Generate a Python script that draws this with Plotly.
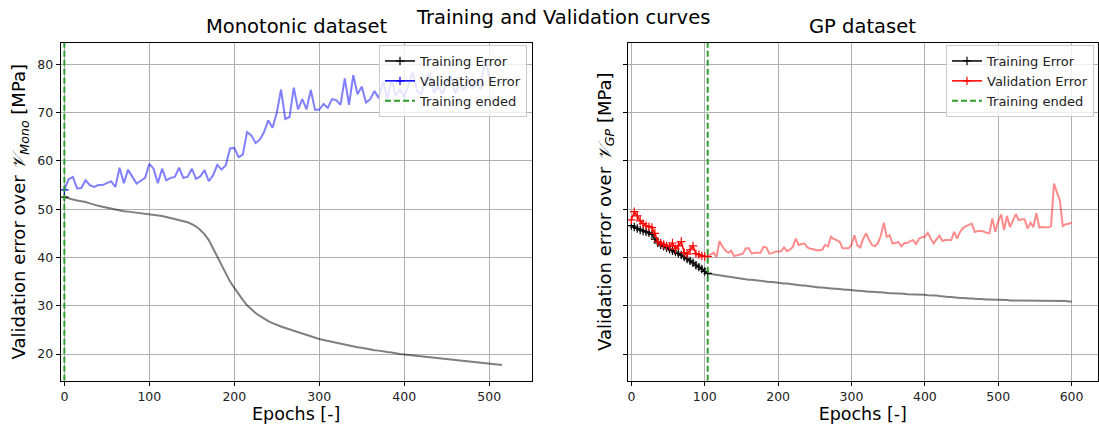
import plotly.graph_objects as go

# ---------------- data ----------------
epochs_mono = list(range(0, 516, 5))
train_mono = [
    52.5, 52.2, 52.0, 51.8, 51.7, 51.5, 51.2, 50.9, 50.7, 50.5,
    50.3, 50.1, 49.9, 49.8, 49.6, 49.5, 49.4, 49.3, 49.2, 49.1,
    49.0, 48.9, 48.8, 48.6, 48.4, 48.2, 48.0, 47.8, 47.6, 47.3,
    46.9, 46.4, 45.7, 44.8, 43.6, 41.9, 40.0, 38.2, 36.5, 35.0,
    33.7, 32.4, 31.2, 30.1, 29.2, 28.5, 27.9, 27.3, 26.8, 26.4,
    26.0, 25.7, 25.4, 25.1, 24.8, 24.5, 24.2, 23.9, 23.7, 23.4,
    23.1, 22.9, 22.7, 22.5, 22.3, 22.1, 21.9, 21.8, 21.6, 21.4,
    21.3, 21.1, 21.0, 20.8, 20.7, 20.5, 20.4, 20.3, 20.1, 20.0,
    19.9, 19.8, 19.7, 19.6, 19.5, 19.4, 19.3, 19.2, 19.1, 19.0,
    18.9, 18.8, 18.7, 18.6, 18.5, 18.4, 18.3, 18.2, 18.1, 18.0,
    17.9, 17.85, 17.8, 17.7,
]
val_mono = [
    54.0, 56.2, 56.7, 54.3, 54.4, 56.0, 55.0, 54.6, 55.0, 55.0,
    55.4, 55.8, 54.6, 58.6, 55.4, 58.2, 56.7, 55.3, 55.9, 56.5,
    59.4, 58.4, 55.4, 58.4, 56.0, 56.5, 56.7, 58.6, 56.5, 56.7,
    58.4, 56.3, 56.8, 58.1, 55.8, 57.0, 59.2, 58.2, 59.1, 62.6,
    62.7, 60.8, 61.3, 66.0, 65.3, 63.7, 64.4, 66.0, 68.4, 66.9,
    70.0, 74.8, 68.7, 69.1, 75.2, 70.7, 72.8, 70.7, 74.7, 70.6,
    70.6, 71.8, 71.0, 72.8, 72.6, 71.6, 77.1, 71.6, 77.8, 73.8,
    75.4, 72.1, 72.8, 74.5, 73.0, 76.5, 72.8, 76.8, 73.5, 74.8,
    73.2, 76.0, 78.4, 74.5, 73.8, 77.0, 78.2, 74.2, 75.5, 73.8,
    76.5, 77.6, 74.0, 75.8, 74.6, 77.2, 75.0, 76.9, 74.8, 81.2,
    77.5, 76.2, 76.5, 76.0,
]
best_mono = 0

epochs_gp = list(range(0, 601, 4))
train_gp = [
    46.6, 46.3, 46.0, 45.7, 45.5, 45.3, 45.1, 44.8, 43.8, 43.0,
    42.6, 42.3, 42.0, 41.7, 41.4, 41.1, 40.8, 40.5, 40.1, 39.7,
    39.3, 38.9, 38.4, 38.0, 37.6, 37.1, 36.7, 36.6, 36.5, 36.4,
    36.3, 36.2, 36.1, 36.0, 35.9, 35.8, 35.8, 35.7, 35.6, 35.5,
    35.4, 35.4, 35.3, 35.2, 35.1, 35.1, 35.0, 34.9, 34.9, 34.8,
    34.8, 34.7, 34.6, 34.6, 34.5, 34.4, 34.4, 34.3, 34.2, 34.2,
    34.1, 34.0, 34.0, 33.9, 33.8, 33.8, 33.7, 33.6, 33.6, 33.5,
    33.5, 33.4, 33.4, 33.3, 33.3, 33.2, 33.2, 33.1, 33.1, 33.0,
    33.0, 32.9, 32.9, 32.8, 32.8, 32.8, 32.7, 32.7, 32.6, 32.6,
    32.6, 32.5, 32.5, 32.5, 32.4, 32.4, 32.4, 32.4, 32.3, 32.3,
    32.3, 32.2, 32.2, 32.1, 32.1, 32.0, 31.9, 31.9, 31.8, 31.8,
    31.7, 31.7, 31.6, 31.6, 31.5, 31.5, 31.5, 31.4, 31.4, 31.4,
    31.3, 31.3, 31.3, 31.3, 31.2, 31.2, 31.2, 31.2, 31.2, 31.1,
    31.1, 31.1, 31.1, 31.1, 31.1, 31.1, 31.1, 31.0, 31.0, 31.0,
    31.0, 31.0, 31.0, 31.0, 31.0, 31.0, 31.0, 31.0, 31.0, 30.9,
    30.9,
]
val_gp = [
    47.8, 49.5, 48.6, 47.6, 47.0, 46.6, 46.4, 46.2, 45.0, 43.3,
    43.0, 42.7, 42.4, 42.3, 43.0, 41.8, 42.4, 43.3, 41.0, 40.7,
    41.6, 42.4, 40.8, 40.6, 40.3, 40.2, 40.2, 40.6, 41.0, 40.1,
    43.4, 42.3, 41.5, 41.0, 41.4, 40.3, 40.5, 40.7, 40.8, 41.9,
    41.9, 40.8, 41.0, 41.0, 41.0, 42.2, 42.1, 40.8, 40.9, 41.2,
    41.3, 41.3, 42.1, 41.3, 41.6, 42.2, 43.9, 42.6, 42.8, 42.9,
    42.1, 41.8, 41.7, 41.5, 41.5, 41.6, 42.6, 42.3, 44.3, 43.8,
    43.6, 43.2, 41.9, 41.9, 41.9, 42.6, 44.6, 42.5, 42.1, 43.9,
    45.0, 43.6, 42.6, 42.3, 43.0, 44.5, 47.2, 44.3, 44.6, 42.9,
    43.0, 43.2, 42.3, 43.0, 43.0, 43.4, 43.6, 42.8, 43.9, 44.2,
    44.3, 45.1, 43.9, 42.9, 43.8, 44.5, 43.4, 43.6, 43.6, 43.6,
    45.3, 43.9, 45.3, 46.1, 46.5, 46.7, 47.0, 45.3, 45.5, 45.5,
    45.4, 45.1, 45.0, 48.1, 45.3, 47.5, 48.9, 45.7, 48.6, 46.3,
    47.5, 49.0, 47.7, 47.9, 47.9, 46.0, 47.2, 46.3, 49.2, 46.2,
    46.3, 46.3, 46.2, 46.5, 55.3, 53.5, 51.9, 46.5, 46.9, 47.0,
    47.2,
]
best_gp = 104

y_ticks = [20, 30, 40, 50, 60, 70, 80]
x_ticks_mono = [0, 100, 200, 300, 400, 500]
x_ticks_gp = [0, 100, 200, 300, 400, 500, 600]
y_range = [14.47, 84.5]

# ---------------- figure ----------------
W, H = 1099, 430
FONT = "DejaVu Sans"
fig = go.Figure()


def panel(xa, ya, leg, epochs, train, val, best, vcol, vfade):
    i = epochs.index(best)
    fig.add_trace(go.Scatter(
        x=epochs[i:], y=train[i:], mode="lines", showlegend=False,
        line=dict(color="rgba(0,0,0,0.5)", width=2), xaxis=xa, yaxis=ya))
    fig.add_trace(go.Scatter(
        x=epochs[i:], y=val[i:], mode="lines", showlegend=False,
        line=dict(color=vfade, width=2), xaxis=xa, yaxis=ya))
    fig.add_trace(go.Scatter(
        x=epochs[:i + 1], y=train[:i + 1], mode="lines+markers", name="Training Error",
        line=dict(color="black", width=1.5),
        marker=dict(symbol="cross-thin", size=6, line=dict(color="black", width=1.2)),
        xaxis=xa, yaxis=ya, legend=leg))
    fig.add_trace(go.Scatter(
        x=epochs[:i + 1], y=val[:i + 1], mode="lines+markers", name="Validation Error",
        line=dict(color=vcol, width=1.5),
        marker=dict(symbol="cross-thin", size=6, line=dict(color=vcol, width=1.2)),
        xaxis=xa, yaxis=ya, legend=leg))
    fig.add_trace(go.Scatter(
        x=[best, best], y=y_range, mode="lines", name="Training ended",
        line=dict(color="#2ca02c", width=2, dash="6px,3px"),
        xaxis=xa, yaxis=ya, legend=leg))


panel("x", "y", "legend", epochs_mono, train_mono, val_mono, best_mono,
      "blue", "rgba(0,0,255,0.5)")
panel("x2", "y2", "legend2", epochs_gp, train_gp, val_gp, best_gp,
      "red", "rgba(255,0,0,0.45)")

ax_common = dict(showline=True, mirror=True, linecolor="black", linewidth=1,
                 ticks="outside", ticklen=4, tickcolor="black",
                 gridcolor="#b0b0b0", gridwidth=1, zeroline=False,
                 tickfont=dict(family=FONT, size=12.5, color="#222222"))
ydom = [1 - 380.7 / H, 1 - 42.7 / H]

leg_common = dict(font=dict(family=FONT, size=13, color="#222222"),
                  bgcolor="rgba(255,255,255,0.8)", bordercolor="#cccccc",
                  borderwidth=1, xanchor="right", yanchor="top",
                  y=1 - 45 / H, itemwidth=30, tracegroupgap=0)

fig.update_layout(
    width=W, height=H, margin=dict(l=0, r=0, t=0, b=0),
    paper_bgcolor="white", plot_bgcolor="white",
    font=dict(family=FONT, color="black"),
    xaxis=dict(domain=[60.7 / W, 531.7 / W], range=[-4.3, 550], anchor="y",
               tickvals=x_ticks_mono,
               title=dict(text="Epochs [-]", font=dict(size=17.5), standoff=5),
               **ax_common),
    yaxis=dict(domain=ydom, range=y_range, anchor="x", tickvals=y_ticks,
               title=dict(text="Validation error over <i>𝒱<sub>Mono</sub></i> [MPa]",
                          font=dict(size=18), standoff=6),
               **ax_common),
    xaxis2=dict(domain=[627.5 / W, 1098 / W], range=[-5.3, 636], anchor="y2",
                tickvals=x_ticks_gp,
                title=dict(text="Epochs [-]", font=dict(size=17.5), standoff=5),
                **ax_common),
    yaxis2=dict(domain=ydom, range=y_range, anchor="x2", tickvals=y_ticks,
                showticklabels=False,
                title=dict(text="Validation error over <i>𝒱<sub>GP</sub></i> [MPa]",
                           font=dict(size=18), standoff=6),
                **ax_common),
    legend=dict(x=527 / W, **leg_common),
    legend2=dict(x=1094 / W, **leg_common),
    annotations=[
        dict(text="Training and Validation curves", x=562.7 / W, y=1 - 18 / H,
             xref="paper", yref="paper", showarrow=False, xanchor="center",
             yanchor="middle", font=dict(family=FONT, size=19.5, color="black")),
        dict(text="Monotonic dataset", x=296.2 / W, y=1 - 27 / H,
             xref="paper", yref="paper", showarrow=False, xanchor="center",
             yanchor="middle", font=dict(family=FONT, size=19.5, color="black")),
        dict(text="GP dataset", x=862.7 / W, y=1 - 27 / H,
             xref="paper", yref="paper", showarrow=False, xanchor="center",
             yanchor="middle", font=dict(family=FONT, size=19.5, color="black")),
    ],
)

fig.write_html("out.html")
